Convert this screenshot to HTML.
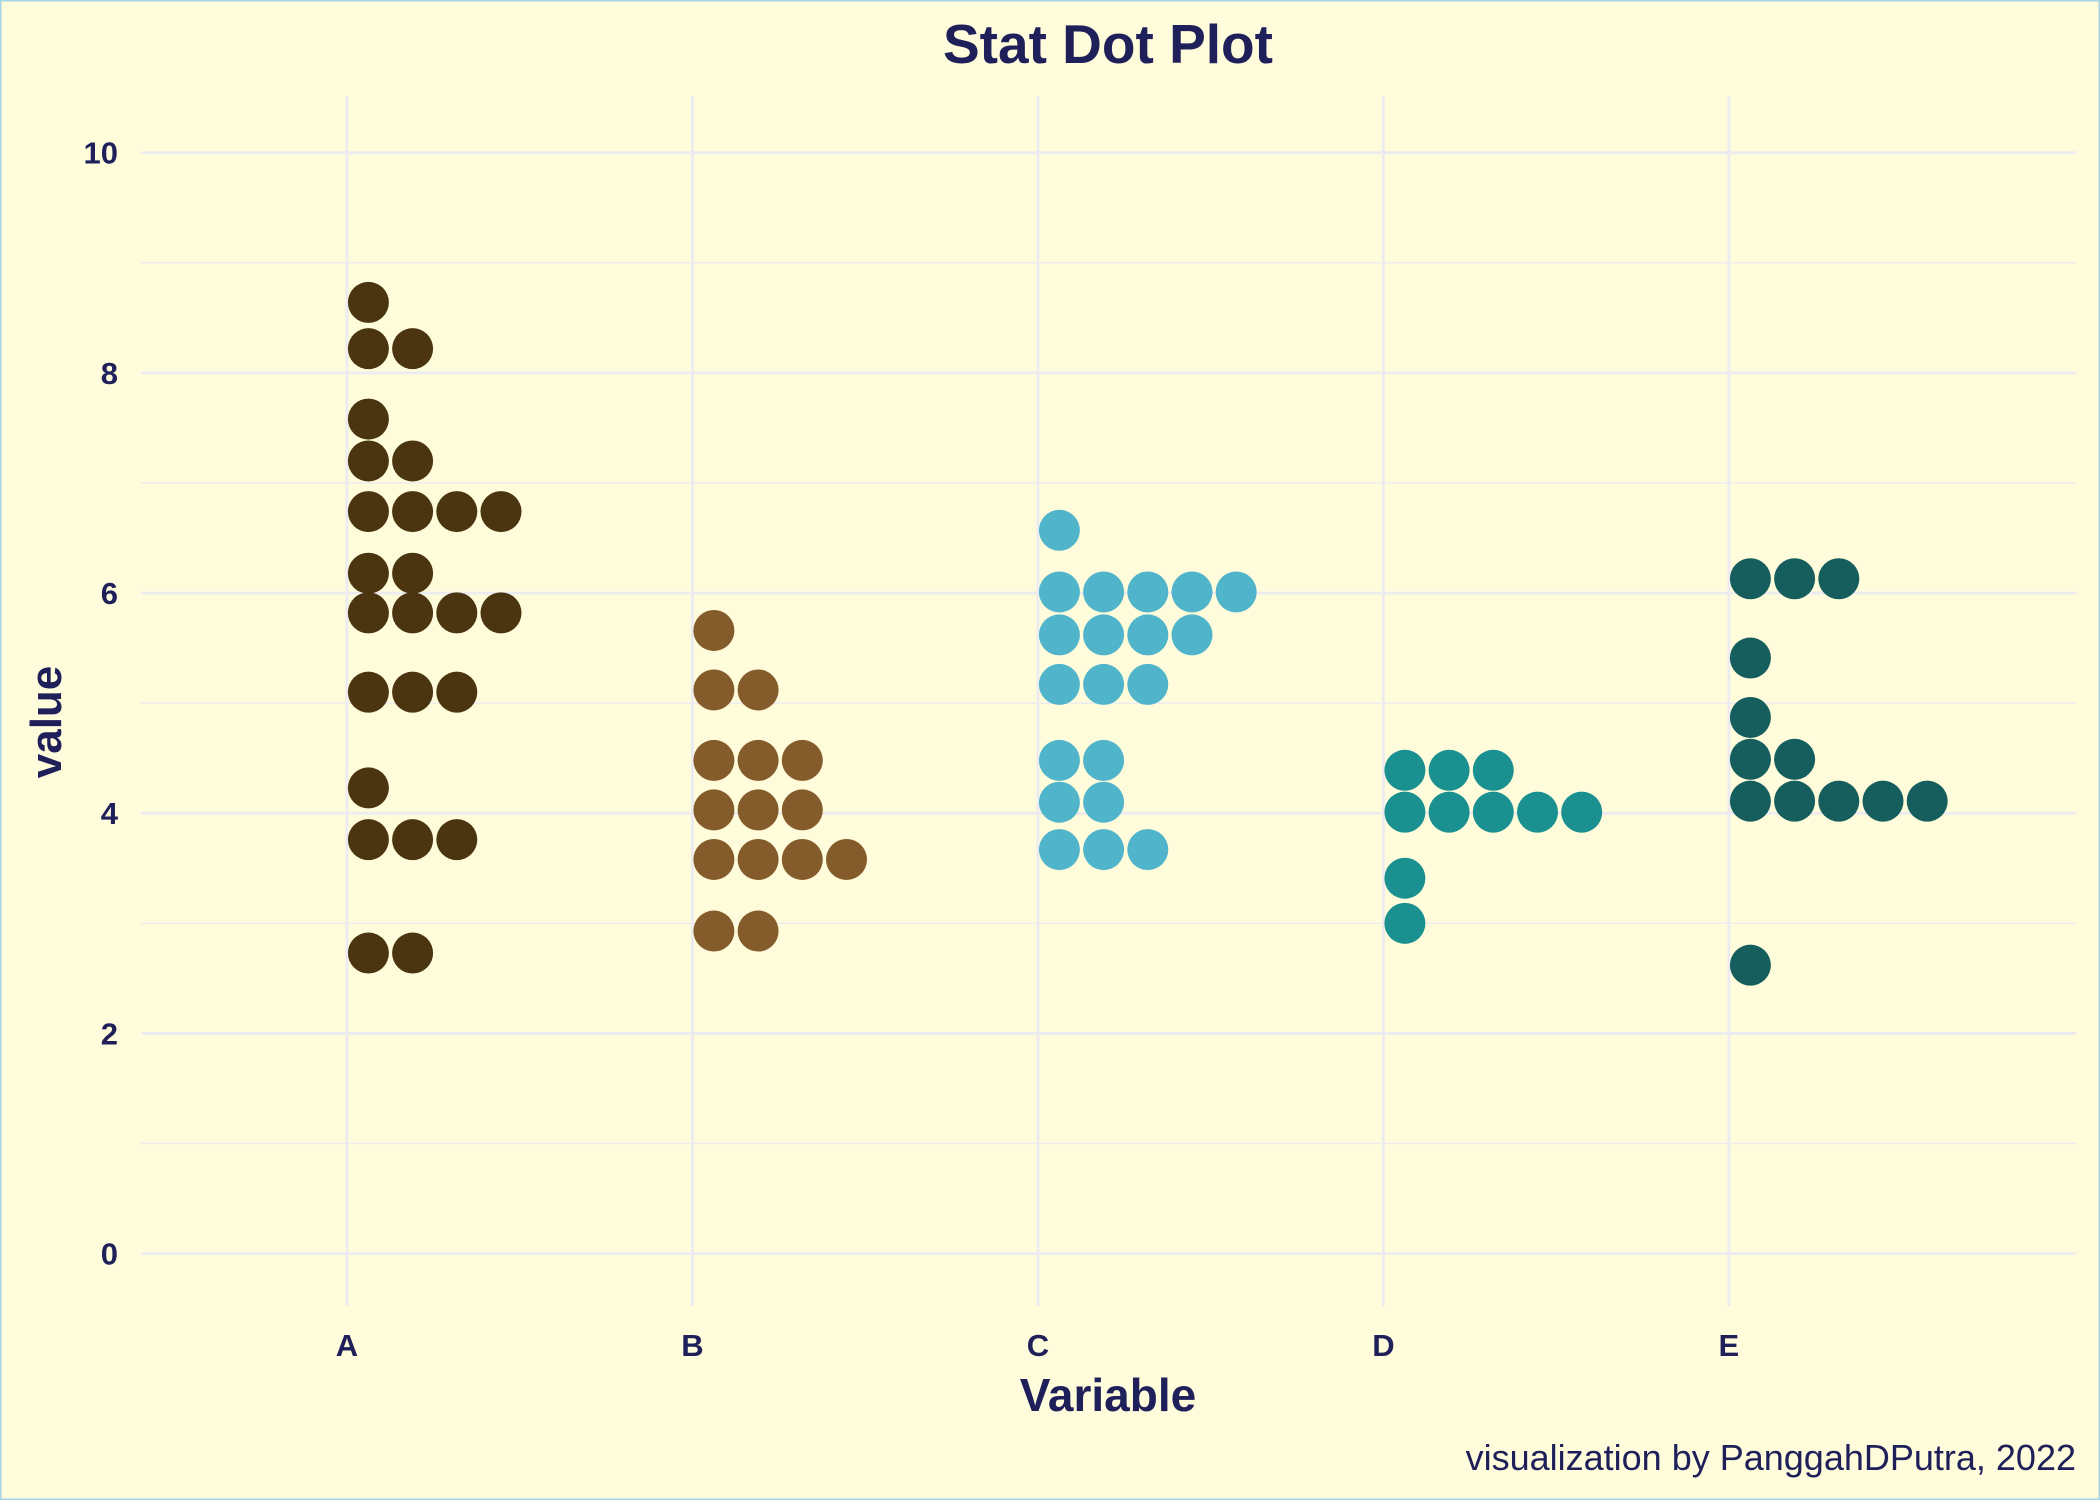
<!DOCTYPE html>
<html><head><meta charset="utf-8"><style>
html,body{margin:0;padding:0;background:#fffcdc;}
svg{display:block;font-family:"Liberation Sans",Arial,sans-serif;}
</style></head><body>
<svg id="chart" width="2100" height="1500" viewBox="0 0 2100 1500" xmlns="http://www.w3.org/2000/svg">
<rect x="0.5" y="0.5" width="2099" height="1499" fill="#fffcdc" stroke="#a9d4e6" stroke-width="2"/>
<g id="grid"></g>
<g id="dots"></g>
<g id="axes"></g>
<text x="1108" y="63" text-anchor="middle" font-size="55" font-weight="bold" fill="#1f1f5a">Stat Dot Plot</text>
<text transform="translate(61,722) rotate(-90)" text-anchor="middle" font-size="44" font-weight="bold" fill="#1f1f5a">value</text>
<text x="1108" y="1411" text-anchor="middle" font-size="46" font-weight="bold" fill="#1f1f5a">Variable</text>
<text x="2076" y="1470" text-anchor="end" font-size="36" fill="#1f1f5a">visualization by PanggahDPutra, 2022</text>
</svg>
<script>
const categories = ["A","B","C","D","E"];
const colors = ["#4a3510","#845b2a","#50b4cb","#1a9090","#165e5e"];
const yTicks = [0,2,4,6,8,10];
const binsA = [[8.64,1],[8.22,2],[7.58,1],[7.20,2],[6.74,4],[6.18,2],[5.82,4],[5.10,3],[4.23,1],[3.76,3],[2.73,2]];
const binsB = [[5.66,1],[5.12,2],[4.48,3],[4.03,3],[3.58,4],[2.93,2]];
const binsC = [[6.57,1],[6.01,5],[5.62,4],[5.17,3],[4.48,2],[4.10,2],[3.67,3]];
const binsD = [[4.39,3],[4.01,5],[3.41,1],[3.00,1]];
const binsE = [[6.13,3],[5.41,1],[4.87,1],[4.49,2],[4.11,5],[2.62,1]];
const allBins = [binsA,binsB,binsC,binsD,binsE];

const NS="http://www.w3.org/2000/svg";
const plotLeft=141, plotRight=2076, plotTop=96, plotBottom=1306;
const y0px=1253.6, y10px=152.7;
function yScale(v){return y0px+(y10px-y0px)*v/10;}
function xScale(i){return 346.9+i*345.5;}
const R=20.5, step=44.2;
function mk(tag,attrs,parent){const e=document.createElementNS(NS,tag);for(const k in attrs)e.setAttribute(k,attrs[k]);parent.appendChild(e);return e;}
const gridG=document.getElementById('grid'), dotsG=document.getElementById('dots'), axesG=document.getElementById('axes');
for(let v=1;v<10;v+=2){
  const l=mk('line',{x1:plotLeft,x2:plotRight,y1:yScale(v),y2:yScale(v),stroke:'#ecebf0','stroke-width':1.4},gridG);
  
  
}
yTicks.forEach(v=>{
  const l=mk('line',{x1:plotLeft,x2:plotRight,y1:yScale(v),y2:yScale(v),stroke:'#ebebf0','stroke-width':2.8},gridG);
  
  
  const t=mk('text',{x:118,y:yScale(v)+11,'text-anchor':'end','font-size':31,'font-weight':'bold',fill:'#1f1f5a'},axesG);
  t.textContent=v;
  
  
});
categories.forEach((c,i)=>{
  const l=mk('line',{x1:xScale(i),x2:xScale(i),y1:plotTop,y2:plotBottom,stroke:'#ebebf0','stroke-width':2.8},gridG);
  
  
  const t=mk('text',{x:xScale(i),y:1356,'text-anchor':'middle','font-size':31,'font-weight':'bold',fill:'#1f1f5a'},axesG);
  t.textContent=c;
  
  
  allBins[i].forEach(b=>{
    for(let k=0;k<b[1];k++){
      const d=mk('circle',{cx:xScale(i)+R+1+k*step,cy:yScale(b[0]),r:R,fill:colors[i]},dotsG);
      
      
    }
  });
});
</script>
</body></html>
